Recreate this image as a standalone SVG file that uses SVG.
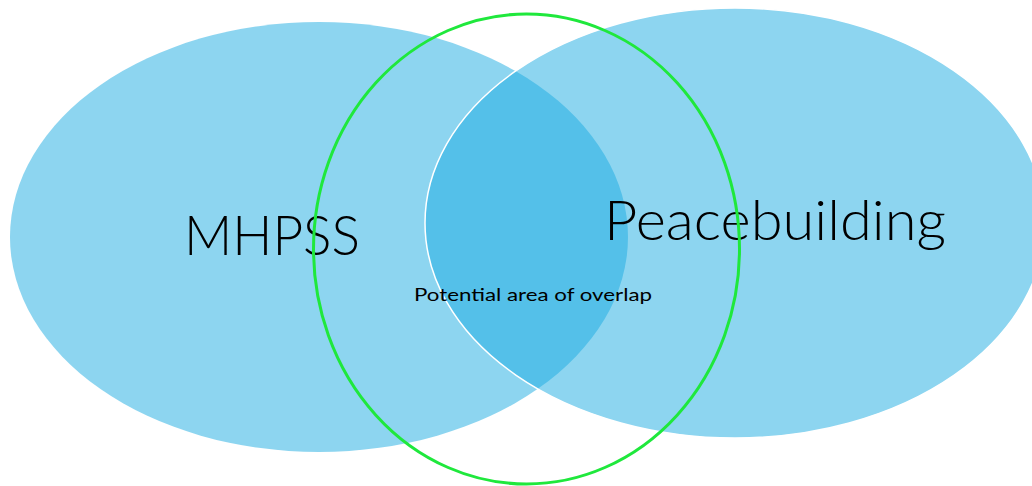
<svg xmlns="http://www.w3.org/2000/svg" width="1032" height="486" viewBox="0 0 1032 486">
<style>
.set{fill:#1babe1;fill-opacity:0.5}
.lbl{font-family:"Lato","Liberation Sans",sans-serif;font-weight:300;fill:#000}
.big{font-size:56px}
.small{font-size:18px;font-weight:400}
</style>
<rect width="1032" height="486" fill="#fff"/>
<g id="mhpss">
<ellipse class="set" cx="319" cy="237" rx="309" ry="215"/>
</g>
<g id="peacebuilding">
<ellipse class="set" cx="735" cy="223" rx="310" ry="215" stroke="#fff" stroke-width="1.5"/>
</g>
<g id="labels">
<text class="lbl big" x="184" y="255" textLength="176" lengthAdjust="spacingAndGlyphs">MHPSS</text>
<text class="lbl big" x="604" y="240" textLength="342" lengthAdjust="spacingAndGlyphs">Peacebuilding</text>
<text class="lbl small" x="414" y="301" textLength="238" lengthAdjust="spacingAndGlyphs">Potential area of overlap</text>
</g>
<g id="overlap">
<ellipse cx="526.5" cy="249" rx="213" ry="235" fill="none" stroke="#1fe83c" stroke-width="3"/>
</g>
</svg>
